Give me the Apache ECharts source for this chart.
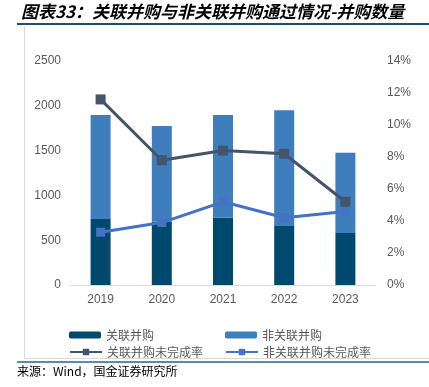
<!DOCTYPE html>
<html><head><meta charset="utf-8">
<script src="https://cdn.jsdelivr.net/npm/echarts@6/dist/echarts.min.js"></script>
<style>html,body{margin:0;padding:0;background:#fff}#c{width:429px;height:387px}</style>
</head><body><div id="c"></div>
<script>
const categories = ['2019','2020','2021','2022','2023'];
const related = [737, 707, 751, 658, 580];
const nonRelated = [1160, 1068, 1146, 1292, 897];
const relatedRate = [11.6, 7.8, 8.4, 8.2, 5.2];
const nonRelatedRate = [3.3, 3.9, 5.2, 4.2, 4.6];
const leftTicks = [0, 500, 1000, 1500, 2000, 2500];
const rightTicks = [0, 2, 4, 6, 8, 10, 12, 14];

const cjk = '"Noto Sans CJK SC", sans-serif';
const lat = '"Liberation Sans", Arial, sans-serif';
const chart = echarts.init(document.getElementById('c'), null, {renderer:'canvas'});
const legendText = {color:'#595959', fontSize:12, fontFamily:cjk};
chart.setOption({
  animation:false,
  backgroundColor:'#fff',
  grid:{left:70, right:53, top:61, bottom:102},
  legend:[
    {left:64, top:324, itemWidth:32, itemHeight:7, itemGap:0, textStyle:legendText, data:['关联并购']},
    {left:220, top:324, itemWidth:32, itemHeight:7, itemGap:0, textStyle:legendText, data:['非关联并购']},
    {left:64, top:341, itemWidth:32, itemHeight:8, itemGap:0, textStyle:legendText, data:['关联并购未完成率']},
    {left:220, top:341, itemWidth:32, itemHeight:8, itemGap:0, textStyle:legendText, data:['非关联并购未完成率']}
  ],
  xAxis:{type:'category', data:categories, boundaryGap:true,
    axisLine:{lineStyle:{color:'#d9d9d9'}},
    axisTick:{inside:true, length:4, lineStyle:{color:'#d9d9d9'}},
    axisLabel:{color:'#595959', fontSize:12, fontFamily:lat, margin:9}},
  yAxis:[
    {type:'value', min:leftTicks[0], max:leftTicks[leftTicks.length-1], interval:500,
      axisLine:{show:false}, axisTick:{show:false}, splitLine:{show:false},
      axisLabel:{color:'#595959', fontSize:12, fontFamily:lat, margin:9, formatter:v=>String(v)}},
    {type:'value', min:rightTicks[0], max:rightTicks[rightTicks.length-1], interval:2,
      axisLine:{show:false}, axisTick:{show:false}, splitLine:{show:false},
      axisLabel:{color:'#595959', fontSize:12, fontFamily:lat, margin:11, formatter:v=>v+'%'}}
  ],
  series:[
    {name:'关联并购', type:'bar', stack:'a', data:related, barWidth:20, itemStyle:{color:'#00496e'}},
    {name:'非关联并购', type:'bar', stack:'a', data:nonRelated, barWidth:20, itemStyle:{color:'#3e7ebd'}},
    {name:'关联并购未完成率', type:'line', yAxisIndex:1, data:relatedRate, symbol:'rect', symbolSize:10,
      lineStyle:{color:'#44546a', width:3}, itemStyle:{color:'#44546a'}},
    {name:'非关联并购未完成率', type:'line', yAxisIndex:1, data:nonRelatedRate, symbol:'rect', symbolSize:9,
      lineStyle:{color:'#4472c4', width:3}, itemStyle:{color:'#4472c4'}}
  ],
  graphic:[
    {type:'text', left:21, top:3, style:{text:'图表33：关联并购与非关联并购通过情况-并购数量', fill:'#000',
      font:'italic bold 17px '+cjk}},
    {type:'rect', shape:{x:17, y:23, width:412, height:2}, style:{fill:'#1f4e6e'}},
    {type:'line', shape:{x1:24.5, y1:26, x2:24.5, y2:358}, style:{stroke:'#d9d9d9', lineWidth:1}},
    {type:'line', shape:{x1:24, y1:358.5, x2:429, y2:358.5}, style:{stroke:'#d9d9d9', lineWidth:1}},
    {type:'rect', shape:{x:17, y:361, width:412, height:2}, style:{fill:'#5b8bab'}},
    {type:'text', left:17, top:365, style:{text:'来源：Wind，国金证券研究所', fill:'#000', font:'12px '+cjk}}
  ]
});
</script></body></html>
